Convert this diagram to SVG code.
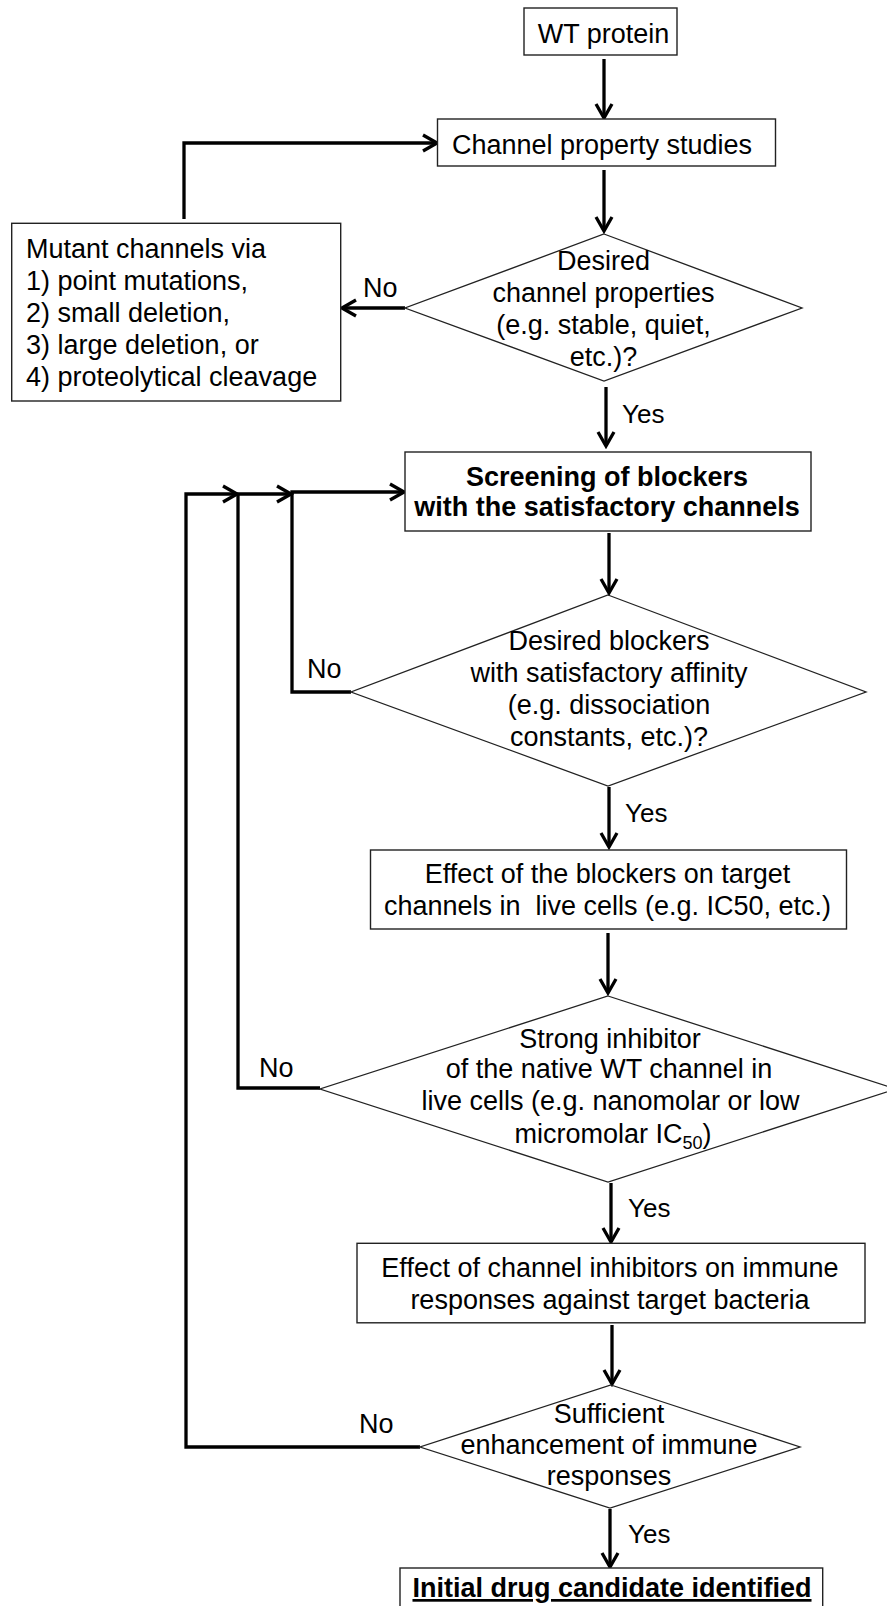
<svg xmlns="http://www.w3.org/2000/svg" width="887" height="1606" viewBox="0 0 887 1606">
<style>
  text { font-family: "Liberation Sans", Arial, sans-serif; font-size: 27px; fill: #000; white-space: pre; }
  .c { text-anchor: middle; }
  .b { font-weight: bold; }
  .lbl { font-size: 26px; }
  .box { fill: #fff; stroke: #222; stroke-width: 1.4; }
  .dia { fill: none; stroke: #222; stroke-width: 1.3; }
  .con { fill: none; stroke: #000; stroke-width: 3.3; stroke-linejoin: miter; }
  .arr { marker-end: url(#ah); }
</style>
<defs>
  <marker id="ah" markerUnits="userSpaceOnUse" markerWidth="20" markerHeight="20" viewBox="0 0 20 20" refX="17" refY="10" orient="auto">
    <path d="M3,2 L17,10 L3,18" fill="none" stroke="#000" stroke-width="3.3" stroke-linejoin="miter"/>
  </marker>
</defs>

<g id="connectors">
  <path class="con arr" d="M604,59 V118"/>
  <path class="con arr" d="M604,170 V231"/>
  <path class="con arr" d="M405,308 H342"/>
  <path class="con arr" d="M184,219 V143 H437"/>
  <path class="con arr" d="M606,387 V446"/>
  <path class="con arr" d="M609,533 V593"/>
  <path class="con arr" d="M351,692 H292 V492 H404"/>
  <path class="con arr" d="M609,787 V847"/>
  <path class="con arr" d="M608,933 V993"/>
  <path class="con arr" d="M320,1088 H238 V494 H291"/>
  <path class="con arr" d="M611,1183 V1242"/>
  <path class="con arr" d="M612,1325 V1384"/>
  <path class="con arr" d="M420,1447 H186 V494 H237"/>
  <path class="con arr" d="M610,1509 V1567"/>
</g>

<g id="labels">
  <text class="lbl" x="363" y="297" style="font-size:27px">No</text>
  <text class="lbl" x="622" y="423">Yes</text>
  <text class="lbl" x="307" y="678" style="font-size:27px">No</text>
  <text class="lbl" x="625" y="822">Yes</text>
  <text class="lbl" x="259" y="1077" style="font-size:27px">No</text>
  <text class="lbl" x="628" y="1217">Yes</text>
  <text class="lbl" x="359" y="1433" style="font-size:27px">No</text>
  <text class="lbl" x="628" y="1543">Yes</text>
</g>

<g id="wt-protein">
  <rect class="box" x="524" y="8" width="153" height="47"/>
  <text class="c" x="603.5" y="43">WT protein</text>
</g>

<g id="channel-property-studies">
  <rect class="box" x="437.5" y="119" width="338" height="47"/>
  <text class="c" x="602" y="154">Channel property studies</text>
</g>

<g id="mutant-channels">
  <rect class="box" x="11.7" y="223.3" width="329" height="177.7"/>
  <text x="26" y="258">Mutant channels via</text>
  <text x="26" y="290">1) point mutations,</text>
  <text x="26" y="322">2) small deletion,</text>
  <text x="26" y="354">3) large deletion, or</text>
  <text x="26" y="386">4) proteolytical cleavage</text>
</g>

<g id="desired-channel-properties">
  <polygon class="dia" points="604,234 802,308 604,381 405,308"/>
  <text class="c" x="603.5" y="270">Desired</text>
  <text class="c" x="603.5" y="302">channel properties</text>
  <text class="c" x="603.5" y="334">(e.g. stable, quiet,</text>
  <text class="c" x="603.5" y="366">etc.)?</text>
</g>

<g id="screening">
  <rect class="box" x="405" y="452" width="406" height="79"/>
  <text class="c b" x="607" y="485.5">Screening of blockers</text>
  <text class="c b" x="607" y="516">with the satisfactory channels</text>
</g>

<g id="desired-blockers">
  <polygon class="dia" points="608,595 866,692 608,786 351,692"/>
  <text class="c" x="609" y="650">Desired blockers</text>
  <text class="c" x="609" y="682">with satisfactory affinity</text>
  <text class="c" x="609" y="714">(e.g. dissociation</text>
  <text class="c" x="609" y="746">constants, etc.)?</text>
</g>

<g id="effect-blockers">
  <rect class="box" x="370.5" y="850" width="476" height="79"/>
  <text class="c" x="607.5" y="883">Effect of the blockers on target</text>
  <text class="c" x="607.5" y="915">channels in  live cells (e.g. IC50, etc.)</text>
</g>

<g id="strong-inhibitor">
  <polygon class="dia" points="608,996 896,1089 608,1182 320,1089"/>
  <text class="c" x="610" y="1048">Strong inhibitor</text>
  <text class="c" x="609" y="1078">of the native WT channel in</text>
  <text class="c" x="610.5" y="1110">live cells (e.g. nanomolar or low</text>
  <text class="c" x="613" y="1143">micromolar IC<tspan dy="6" style="font-size:18px">50</tspan><tspan dy="-6">)</tspan></text>
</g>

<g id="effect-inhibitors">
  <rect class="box" x="357" y="1243.3" width="508" height="79.5"/>
  <text class="c" x="610" y="1277">Effect of channel inhibitors on immune</text>
  <text class="c" x="610" y="1308.5">responses against target bacteria</text>
</g>

<g id="sufficient-enhancement">
  <polygon class="dia" points="611,1385 800,1447 610,1508 420,1447"/>
  <text class="c" x="609" y="1423">Sufficient</text>
  <text class="c" x="609" y="1454">enhancement of immune</text>
  <text class="c" x="609" y="1485">responses</text>
</g>

<g id="initial-drug-candidate">
  <rect class="box" x="400" y="1568" width="422.7" height="60"/>
  <text class="c b" x="612" y="1597" text-decoration="underline">Initial drug candidate identified</text>
</g>
</svg>
